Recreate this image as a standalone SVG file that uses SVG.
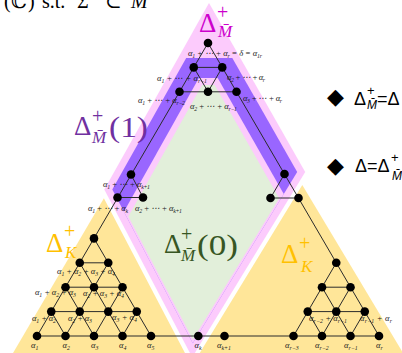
<svg xmlns="http://www.w3.org/2000/svg" width="402" height="353" viewBox="0 0 402 353">
<style>
.l{font-family:"Liberation Serif","DejaVu Serif",serif;font-style:italic;font-size:8.5px;fill:#1a1a1a}
.s{font-size:5.8px;baseline-shift:-1.8px}
.cn line{stroke:#2b2b2b;stroke-width:1}
.nd{fill:#000}
.mth{font-family:"Liberation Serif","DejaVu Serif",serif}
.it{font-style:italic}
.lg{font-family:"Liberation Sans","DejaVu Sans",sans-serif;fill:#000}
</style>
<rect width="402" height="353" fill="#fff"/>
<!-- regions -->
<polygon points="103.9,198.3 192.3,367 4.8,367" fill="#FFE699"/>
<polygon points="302.3,185 411.5,367 191.2,367" fill="#FFE699"/>
<polygon points="209,3 305.2,171.9 192.2,357.3 104.3,189.6" fill="#FCCBFC"/>
<polygon points="186.2,58 232.3,58 297.2,171.9 192.8,343.2 112.3,189.6" fill="#9966FF"/>
<polygon points="198.9,78 217.7,78 283.8,193.9 192.8,343.2 123.9,211.8" fill="#FCCBFC"/>
<polygon points="202,85 214.7,85 279.2,198.2 192.9,339.6 128.3,216.4" fill="#E2EFDA"/>

<!-- header text (clipped at top, as in the reference) -->
<text class="mth" y="8" font-size="20" fill="#000"><tspan x="4">(</tspan><tspan x="11">ℂ</tspan><tspan x="28">)</tspan><tspan x="42">s.t.</tspan><tspan x="77">Σ</tspan><tspan x="105">⊂</tspan><tspan x="131" class="it">M</tspan></text>

<!-- big labels -->
<g fill="#CC00CC" class="mth">
<text x="199" y="32" font-size="27">Δ</text>
<text x="217" y="19" font-size="20">+</text>
<text x="218" y="37" font-size="17" class="it">M&#x304;</text>
</g>
<g fill="#7030A0" class="mth">
<text x="74" y="135" font-size="27">Δ</text>
<text x="92" y="123" font-size="20">+</text>
<text x="92" y="143" font-size="17" class="it">M&#x304;</text>
<text x="109" y="137" font-size="29" textLength="39" lengthAdjust="spacingAndGlyphs">(1)</text>
</g>
<g fill="#375623" class="mth">
<text x="164" y="253" font-size="27">Δ</text>
<text x="181" y="241" font-size="20">+</text>
<text x="181" y="261" font-size="17" class="it">M&#x304;</text>
<text x="197" y="255" font-size="29" textLength="41" lengthAdjust="spacingAndGlyphs">(0)</text>
</g>
<g fill="#FFC000" class="mth">
<text x="46" y="252" font-size="27">Δ</text>
<text x="64" y="238" font-size="20">+</text>
<text x="65" y="258" font-size="17" class="it">K</text>
<text x="281" y="263" font-size="27">Δ</text>
<text x="299" y="250" font-size="20">+</text>
<text x="301" y="272" font-size="17" class="it">K</text>
</g>

<!-- legend -->
<g class="lg">
<text x="327" y="104" font-family="DejaVu Sans" font-size="22">◆</text>
<text x="354" y="105" font-size="18">Δ</text>
<text x="367" y="95" font-size="13">+</text>
<text x="367" y="109" font-size="12" font-style="italic">M&#x304;</text>
<text x="377" y="105" font-size="18">=Δ</text>
<text x="327" y="173" font-family="DejaVu Sans" font-size="22">◆</text>
<text x="355" y="172" font-size="18">Δ=Δ</text>
<text x="391" y="162" font-size="13">+</text>
<text x="392" y="180" font-size="12" font-style="italic">M&#x304;</text>
</g>

<!-- connectors -->
<g id="connectors" class="cn">
<line x1="208" y1="43" x2="37" y2="336"/>
<line x1="208" y1="43" x2="379" y2="336"/>
<line x1="37" y1="336" x2="379" y2="336"/>
<line x1="193.75" y1="67.4" x2="222.25" y2="67.4"/>
<line x1="193.75" y1="67.4" x2="208" y2="91.8"/>
<line x1="222.25" y1="67.4" x2="208" y2="91.8"/>
<line x1="179.5" y1="91.8" x2="236.5" y2="91.8"/>
<line x1="131" y1="174.5" x2="143" y2="197.5"/>
<line x1="117.5" y1="197.5" x2="143" y2="197.5"/>
<line x1="284.5" y1="174" x2="270.5" y2="198"/>
<line x1="270.5" y1="198" x2="298.5" y2="198"/>
<line x1="79.75" y1="262.8" x2="108.25" y2="262.8"/>
<line x1="65.5" y1="287.2" x2="122.5" y2="287.2"/>
<line x1="51.25" y1="311.6" x2="136.75" y2="311.6"/>
<line x1="94" y1="238.4" x2="151" y2="336"/>
<line x1="79.75" y1="262.8" x2="122.5" y2="336"/>
<line x1="65.5" y1="287.2" x2="94" y2="336"/>
<line x1="51.25" y1="311.6" x2="65.5" y2="336"/>
<line x1="108.25" y1="262.8" x2="65.5" y2="336"/>
<line x1="122.5" y1="287.2" x2="94" y2="336"/>
<line x1="136.75" y1="311.6" x2="122.5" y2="336"/>
<line x1="336.25" y1="262.8" x2="293.5" y2="336"/>
<line x1="350.5" y1="287.2" x2="322" y2="336"/>
<line x1="364.75" y1="311.6" x2="350.5" y2="336"/>
<line x1="322" y1="287.2" x2="350.5" y2="336"/>
<line x1="307.75" y1="311.6" x2="322" y2="336"/>
<line x1="322" y1="287.2" x2="350.5" y2="287.2"/>
<line x1="307.75" y1="311.6" x2="364.75" y2="311.6"/>
</g>

<!-- nodes -->
<g id="n-top"><circle class="nd" cx="208" cy="43" r="4.3"/><text class="l" x="188" y="55.5" textLength="74" lengthAdjust="spacing">α<tspan class="s">1</tspan> + ⋯ + α<tspan class="s">r</tspan> = δ = α<tspan class="s">1r</tspan></text></g>
<g id="n-r1a"><circle class="nd" cx="193.75" cy="67.4" r="4.3"/><text class="l" x="157" y="80.5" textLength="50" lengthAdjust="spacing">α<tspan class="s">1</tspan> + ⋯ + α<tspan class="s">r−1</tspan></text></g>
<g id="n-r1b"><circle class="nd" cx="222.25" cy="67.4" r="4.3"/><text class="l" x="227" y="79.5" textLength="38" lengthAdjust="spacing">α<tspan class="s">2</tspan> + ⋯ + α<tspan class="s">r</tspan></text></g>
<g id="n-r2a"><circle class="nd" cx="179.5" cy="91.8" r="4.3"/><text class="l" x="138" y="102.5" textLength="47" lengthAdjust="spacing">α<tspan class="s">1</tspan> + ⋯ + α<tspan class="s">r−2</tspan></text></g>
<g id="n-r2b"><circle class="nd" cx="208" cy="91.8" r="4.3"/><text class="l" x="190" y="109" textLength="47" lengthAdjust="spacing">α<tspan class="s">2</tspan> + ⋯ + α<tspan class="s">r−1</tspan></text></g>
<g id="n-r2c"><circle class="nd" cx="236.5" cy="91.8" r="4.3"/><text class="l" x="243" y="100.5" textLength="39" lengthAdjust="spacing">α<tspan class="s">3</tspan> + ⋯ + α<tspan class="s">r</tspan></text></g>
<g id="n-ml-t"><circle class="nd" cx="131" cy="174.5" r="4.3"/><text class="l" x="103" y="187" textLength="47" lengthAdjust="spacing">α<tspan class="s">1</tspan> + ⋯ + α<tspan class="s">k+1</tspan></text></g>
<g id="n-ml-a"><circle class="nd" cx="117.5" cy="197.5" r="4.3"/><text class="l" x="88" y="210.5" textLength="40" lengthAdjust="spacing">α<tspan class="s">1</tspan> + ⋯ + α<tspan class="s">k</tspan></text></g>
<g id="n-ml-b"><circle class="nd" cx="143" cy="197.5" r="4.3"/><text class="l" x="135" y="210.5" textLength="47" lengthAdjust="spacing">α<tspan class="s">2</tspan> + ⋯ + α<tspan class="s">k+1</tspan></text></g>
<g id="n-mr-t"><circle class="nd" cx="284.5" cy="174" r="4.3"/></g>
<g id="n-mr-a"><circle class="nd" cx="270.5" cy="198" r="4.3"/></g>
<g id="n-mr-b"><circle class="nd" cx="298.5" cy="198" r="4.3"/></g>
<g id="n-k8"><circle class="nd" cx="94" cy="238.4" r="4.3"/></g>
<g id="n-k9a"><circle class="nd" cx="79.75" cy="262.8" r="4.3"/><text class="l" x="57" y="274" textLength="58" lengthAdjust="spacing">α<tspan class="s">1</tspan> + α<tspan class="s">2</tspan> + α<tspan class="s">3</tspan> + α<tspan class="s">4</tspan></text></g>
<g id="n-k9b"><circle class="nd" cx="108.25" cy="262.8" r="4.3"/></g>
<g id="n-k10a"><circle class="nd" cx="65.5" cy="287.2" r="4.3"/><text class="l" x="35" y="295" textLength="41" lengthAdjust="spacing">α<tspan class="s">1</tspan> + α<tspan class="s">2</tspan> + α<tspan class="s">3</tspan></text></g>
<g id="n-k10b"><circle class="nd" cx="94" cy="287.2" r="4.3"/><text class="l" x="83" y="296" textLength="41" lengthAdjust="spacing">α<tspan class="s">2</tspan> + α<tspan class="s">3</tspan> + α<tspan class="s">4</tspan></text></g>
<g id="n-k10c"><circle class="nd" cx="122.5" cy="287.2" r="4.3"/></g>
<g id="n-k11a"><circle class="nd" cx="51.25" cy="311.6" r="4.3"/><text class="l" x="32" y="321" textLength="24" lengthAdjust="spacing">α<tspan class="s">1</tspan> + α<tspan class="s">2</tspan></text></g>
<g id="n-k11b"><circle class="nd" cx="79.75" cy="311.6" r="4.3"/><text class="l" x="68" y="321" textLength="24" lengthAdjust="spacing">α<tspan class="s">2</tspan> + α<tspan class="s">3</tspan></text></g>
<g id="n-k11c"><circle class="nd" cx="108.25" cy="311.6" r="4.3"/><text class="l" x="112" y="320" textLength="25" lengthAdjust="spacing">α<tspan class="s">3</tspan> + α<tspan class="s">4</tspan></text></g>
<g id="n-k11d"><circle class="nd" cx="136.75" cy="311.6" r="4.3"/></g>
<g id="n-a1"><circle class="nd" cx="37" cy="336" r="4.3"/><text class="l" x="31" y="348">α<tspan class="s">1</tspan></text></g>
<g id="n-a2"><circle class="nd" cx="65.5" cy="336" r="4.3"/><text class="l" x="62.5" y="348">α<tspan class="s">2</tspan></text></g>
<g id="n-a3"><circle class="nd" cx="94" cy="336" r="4.3"/><text class="l" x="91" y="348">α<tspan class="s">3</tspan></text></g>
<g id="n-a4"><circle class="nd" cx="122.5" cy="336" r="4.3"/><text class="l" x="119" y="348">α<tspan class="s">4</tspan></text></g>
<g id="n-a5"><circle class="nd" cx="151" cy="336" r="4.3"/><text class="l" x="147" y="348">α<tspan class="s">5</tspan></text></g>
<g id="n-ak"><circle class="nd" cx="198.3" cy="336" r="4.3"/><text class="l" x="194.5" y="348">α<tspan class="s">k</tspan></text></g>
<g id="n-ak1"><circle class="nd" cx="224.5" cy="336" r="4.3"/><text class="l" x="217" y="348">α<tspan class="s">k+1</tspan></text></g>
<g id="n-rt9"><circle class="nd" cx="336.25" cy="262.8" r="4.3"/></g>
<g id="n-rt10a"><circle class="nd" cx="322" cy="287.2" r="4.3"/></g>
<g id="n-rt10b"><circle class="nd" cx="350.5" cy="287.2" r="4.3"/></g>
<g id="n-rt11a"><circle class="nd" cx="307.75" cy="311.6" r="4.3"/></g>
<g id="n-rt11b"><circle class="nd" cx="336.25" cy="311.6" r="4.3"/><text class="l" x="309" y="321" textLength="38" lengthAdjust="spacing">α<tspan class="s">r−2</tspan> + α<tspan class="s">r−1</tspan></text></g>
<g id="n-rt11c"><circle class="nd" cx="364.75" cy="311.6" r="4.3"/><text class="l" x="360" y="321" textLength="32" lengthAdjust="spacing">α<tspan class="s">r−1</tspan> + α<tspan class="s">r</tspan></text></g>
<g id="n-ar3"><circle class="nd" cx="293.5" cy="336" r="4.3"/><text class="l" x="285" y="347.5">α<tspan class="s">r−3</tspan></text></g>
<g id="n-ar2"><circle class="nd" cx="322" cy="336" r="4.3"/><text class="l" x="315" y="347.5">α<tspan class="s">r−2</tspan></text></g>
<g id="n-ar1"><circle class="nd" cx="350.5" cy="336" r="4.3"/><text class="l" x="344" y="347.5">α<tspan class="s">r−1</tspan></text></g>
<g id="n-ar"><circle class="nd" cx="379" cy="336" r="4.3"/><text class="l" x="376" y="347.5">α<tspan class="s">r</tspan></text></g>
</svg>
